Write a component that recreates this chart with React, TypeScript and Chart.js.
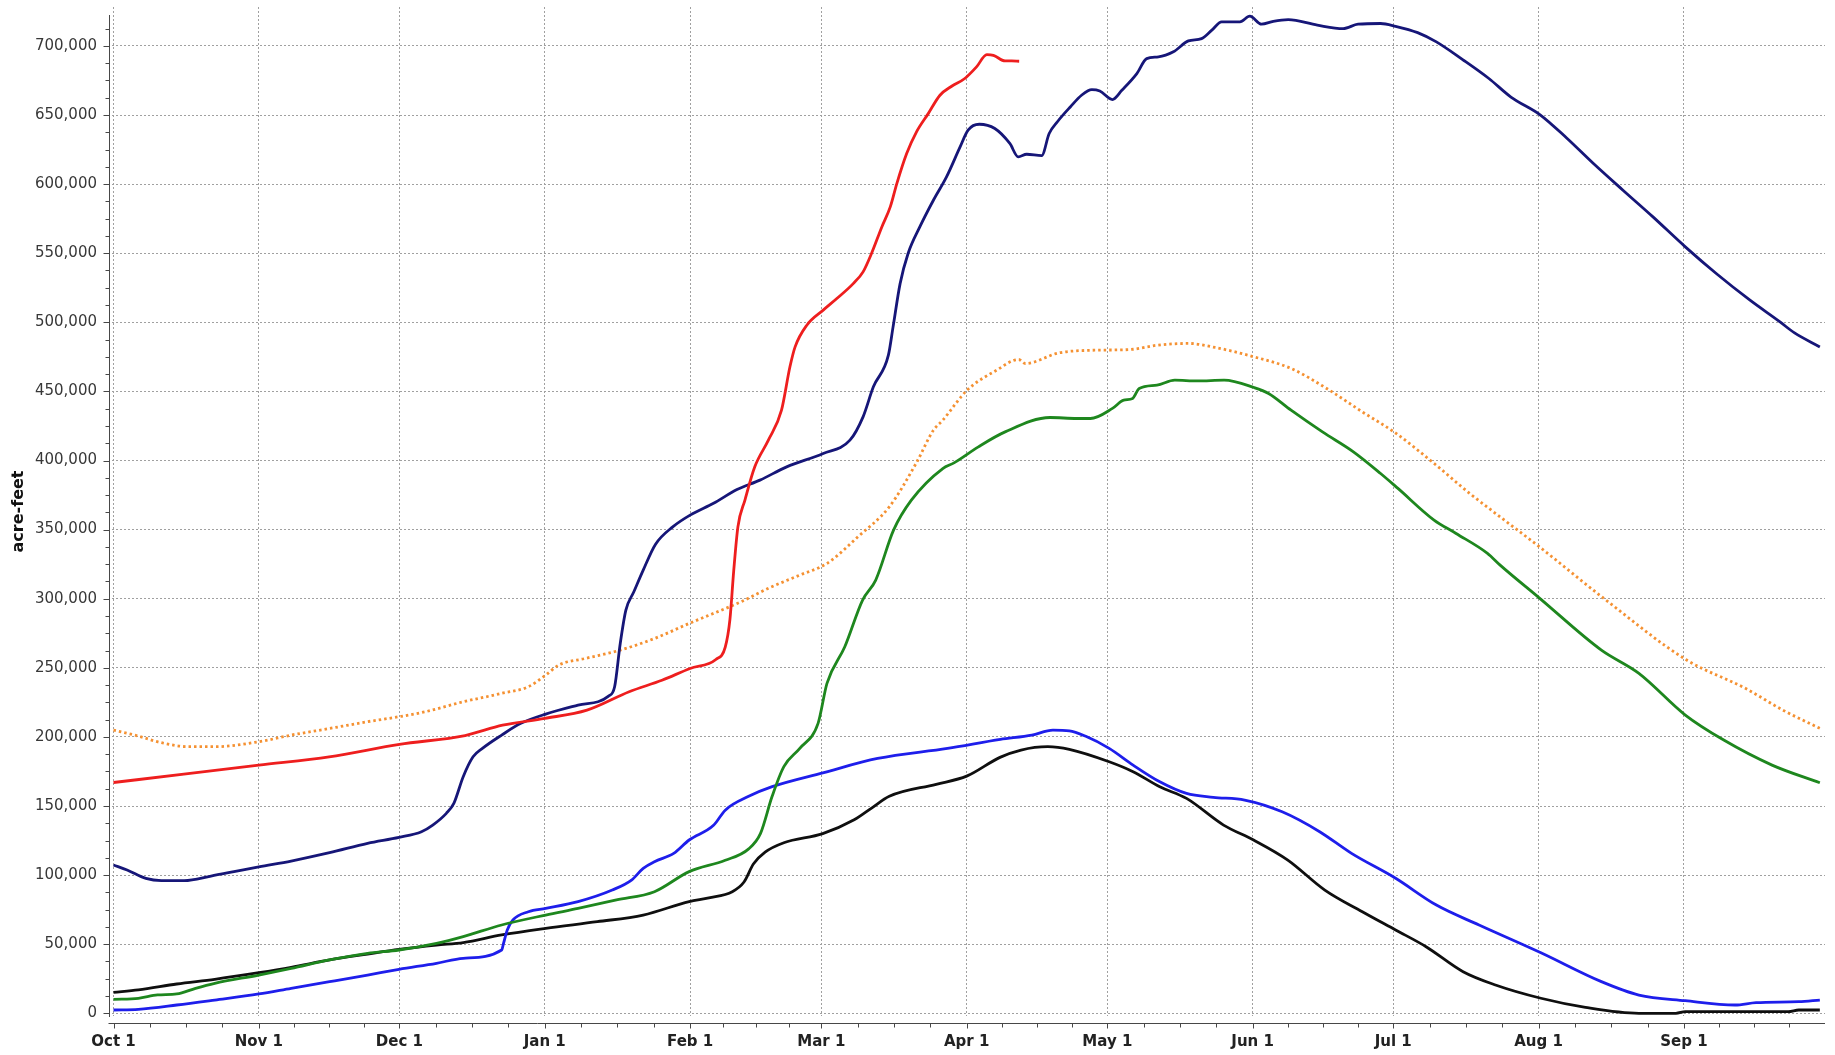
import React, { useEffect, useRef } from "react";
import { Chart, registerables } from "chart.js";

Chart.register(...registerables);

// x = day of water year (Oct 1 = 0)
const MONTH_DAYS = [0, 31, 61, 92, 123, 151, 182, 212, 243, 273, 304, 335];
const MONTH_LABELS = ["Oct 1", "Nov 1", "Dec 1", "Jan 1", "Feb 1", "Mar 1", "Apr 1", "May 1", "Jun 1", "Jul 1", "Aug 1", "Sep 1"];
const Y_TICKS = [0, 50000, 100000, 150000, 200000, 250000, 300000, 350000, 400000, 450000, 500000, 550000, 600000, 650000, 700000];

const RED_DAYS = [0, 15, 31, 46, 61, 75, 83, 92, 101, 110, 117, 123, 128.5, 130.5, 131.5, 132.3, 133.2, 134.7, 136.8, 139.7, 142.5, 144.3, 145.4, 147.9, 151.4, 154.3, 157.8, 159.9, 161.7, 163.9, 165.7, 167.1, 169.2, 171.3, 173.8, 176.3, 178.8, 181.6, 184.1, 186.3, 187.7, 190.2, 191.6, 193.2];
const RED_VALUES = [167000, 173000, 179600, 185600, 194600, 201000, 208500, 213400, 219400, 232700, 241000, 249500, 256000, 265000, 285000, 320000, 352000, 371400, 395400, 414700, 436400, 467800, 482200, 497900, 508800, 517200, 528000, 536500, 549800, 569000, 583500, 600400, 622100, 637800, 651000, 664300, 670800, 676400, 684800, 693700, 693200, 689100, 689100, 688900];

const NAVY_DAYS = [0, 2.9, 6.9, 10.2, 15.1, 20.8, 25.7, 31, 37.9, 46.1, 54.2, 60.9, 65.7, 68.1, 71, 72.6, 74.6, 76.7, 78.7, 82.8, 86.9, 92.2, 99.1, 105.6, 106.9, 108.1, 109.3, 111, 113, 115.6, 119.3, 123, 128, 133, 137.9, 143.6, 151.4, 157.1, 159.9, 162.1, 165.3, 166.3, 167.8, 169.5, 172, 174.9, 177.7, 180.6, 182.3, 184.7, 188, 191.2, 193, 194.8, 198, 199.6, 201.4, 204.1, 206.5, 208.7, 210.4, 213.1, 215.1, 218.3, 220.4, 222.9, 226.1, 229.3, 232.1, 234.3, 236.4, 240.3, 242.4, 244.9, 247.4, 250.6, 256.8, 262.3, 265.5, 270.3, 273.5, 278.2, 282.2, 287.8, 293.4, 298.1, 304.4, 310.1, 315.7, 322, 328.4, 335.3, 341.9, 349.1, 355.5, 358.6, 364];
const NAVY_VALUES = [107300, 103700, 97600, 96000, 96000, 99300, 102500, 106000, 110200, 116200, 123000, 127300, 131400, 136200, 144700, 151900, 171200, 185600, 191700, 201300, 209800, 216500, 223000, 229500, 236300, 267600, 291700, 305000, 320700, 339300, 352000, 360500, 369000, 379000, 385800, 395400, 405100, 414700, 431600, 453300, 476200, 496700, 528000, 549800, 569000, 588300, 605200, 626900, 639000, 643300, 640200, 629400, 619700, 621600, 620600, 636600, 645300, 655800, 664300, 668400, 667400, 661200, 667900, 680000, 690800, 692000, 695700, 703600, 705300, 711400, 717400, 717400, 721500, 715700, 717800, 719000, 715000, 712500, 715700, 716200, 714200, 709600, 702900, 690100, 676400, 663000, 650000, 633000, 614900, 595600, 576300, 554600, 535300, 516000, 500300, 492300, 482200];

const ORANGE_DAYS = [0, 5.3, 10.2, 15.9, 21.6, 31, 37.9, 46.1, 54.2, 60.9, 66.5, 74.6, 82.8, 88.5, 92.2, 95, 100.7, 108.1, 115.4, 122.8, 134, 140, 146.4, 152.2, 158.8, 165.5, 171.2, 174.9, 176.9, 182.1, 188.4, 193.1, 194.5, 201.7, 209.3, 216.9, 222.6, 229.3, 235, 243.3, 251.2, 258.8, 266.4, 273.6, 281.7, 289.3, 295.8, 304, 318, 335.6, 348.2, 356.1, 364];
const ORANGE_VALUES = [204900, 200600, 195800, 192900, 192900, 196500, 201300, 206100, 211000, 214600, 218200, 225400, 231500, 236300, 244700, 252000, 256800, 262800, 271200, 282100, 298000, 308000, 317100, 325500, 344800, 366500, 397900, 421900, 429200, 450900, 465400, 473100, 470200, 477900, 479800, 480300, 483400, 484700, 481800, 475000, 466600, 452100, 435200, 419600, 397900, 376200, 359200, 338000, 300000, 255600, 235000, 219400, 206200];

const GREEN_DAYS = [0, 5.3, 9.4, 13.5, 17.5, 21.6, 31, 37.9, 46.1, 54.2, 60.9, 68.9, 74.6, 82.8, 92.2, 99.1, 107.3, 115.4, 122.8, 130.5, 135.5, 138, 140.5, 143, 146.4, 150.3, 152.2, 156, 159.8, 162.6, 166.4, 170.2, 176.9, 179.3, 184.5, 190.2, 199.8, 205.5, 208.4, 213.1, 215.5, 217.4, 218.8, 222.6, 226.4, 231.2, 236.9, 243.3, 246.4, 251.2, 257.9, 264.5, 270.3, 274, 281.7, 286.4, 293.1, 295.8, 304, 317.4, 325.4, 335.3, 343.5, 353.8, 364];
const GREEN_VALUES = [10100, 10800, 13300, 14000, 18100, 21700, 27700, 32500, 38600, 43400, 45800, 50600, 55500, 63900, 71100, 75900, 82000, 88000, 102500, 110700, 119000, 130000, 157000, 178500, 191700, 209800, 238700, 265200, 299000, 313500, 349600, 371300, 394200, 398300, 409900, 420700, 431100, 430400, 430400, 437700, 443700, 444900, 452100, 454500, 458100, 457600, 458100, 452800, 448500, 436400, 420700, 406300, 390600, 379800, 356900, 347200, 332800, 324300, 301000, 262800, 246000, 215800, 197700, 179600, 166800];

const BLUE_DAYS = [0, 5.3, 13.5, 21.6, 31, 37.9, 46.1, 54.2, 60.9, 68.9, 74.6, 82.8, 83.2, 84, 85.2, 88.5, 92.2, 99.1, 106.4, 110.5, 113, 115.4, 119.5, 122.8, 128, 130.5, 135.5, 140.5, 151.3, 163, 177.9, 189.2, 195.9, 200.4, 203.9, 207.3, 212.4, 217.5, 223.2, 228.9, 234.6, 241.3, 249.3, 257.3, 264.1, 273.5, 282.2, 291.3, 304.5, 317.4, 325.4, 335.3, 345.9, 350.4, 359.5, 364];
const BLUE_VALUES = [2400, 2900, 6000, 9600, 14000, 18100, 22900, 27700, 31800, 36200, 39800, 45800, 50600, 60300, 67500, 73500, 75900, 80800, 89200, 96400, 104900, 109700, 115700, 125400, 136000, 147000, 157000, 164000, 174000, 184400, 191700, 198200, 201300, 204900, 204400, 200600, 191700, 179600, 167500, 159100, 156300, 154300, 145800, 131400, 115700, 97700, 78300, 63900, 43800, 22900, 13200, 9100, 6000, 7700, 8400, 9600];

const BLACK_DAYS = [0, 5.3, 13.5, 21.6, 31, 37.9, 46.1, 54.2, 60.9, 68.9, 74.6, 82.8, 92.2, 103.2, 113, 122.8, 127, 132, 134.5, 136.5, 139, 143, 151.3, 158, 161.8, 165.5, 175.5, 182, 189.1, 193.6, 199.3, 203.9, 212.4, 217.5, 223.2, 228.9, 236.8, 243.2, 250.5, 258.4, 266.4, 273.5, 280, 287.9, 294.8, 304.5, 314, 325.4, 333.3, 335.3, 357.3, 359.5, 364];
const BLACK_VALUES = [15200, 16900, 21200, 24600, 29400, 33300, 38600, 42900, 46300, 49400, 51100, 56700, 61500, 66300, 71100, 80800, 83500, 88000, 95000, 108000, 116600, 123400, 130000, 140000, 148700, 157000, 165700, 171600, 185200, 190500, 192900, 191000, 182000, 174800, 163900, 155500, 136200, 125400, 110900, 89200, 73500, 60300, 48200, 30100, 20500, 10900, 4300, 0, 0, 1200, 1200, 2400, 2400];

const toPoints = (days: number[], vals: number[]) => days.map((d, i) => ({ x: d, y: vals[i] }));

const FONT = "'DejaVu Sans', Verdana, sans-serif";

const offsetAxesPlugin = {
  id: "offsetAxes",
  afterDraw(chart: any) {
    const { ctx, chartArea, scales } = chart;
    const xs = scales.x;
    const ys = scales.y;
    ctx.save();
    ctx.strokeStyle = "#474747";
    ctx.lineWidth = 1;
    const ax = Math.round(chartArea.left) - 2.5;
    ctx.beginPath();
    ctx.moveTo(ax, 15);
    ctx.lineTo(ax, chartArea.bottom + 1);
    ctx.stroke();
    for (let v = 0; v <= 715000; v += 12500) {
      const y = Math.round(ys.getPixelForValue(v)) + 0.5;
      const len = v % 50000 === 0 ? 6 : 4;
      ctx.beginPath();
      ctx.moveTo(ax - len, y);
      ctx.lineTo(ax, y);
      ctx.stroke();
    }
    const ay = Math.round(chartArea.bottom) + 7.5;
    ctx.beginPath();
    ctx.moveTo(ax - 1, ay);
    ctx.lineTo(chartArea.right, ay);
    ctx.stroke();
    for (let i = 0; i < MONTH_DAYS.length; i++) {
      const a = MONTH_DAYS[i];
      const b = i + 1 < MONTH_DAYS.length ? MONTH_DAYS[i + 1] : 365;
      for (let k = 0; k < 4; k++) {
        const d = a + ((b - a) * k) / 4;
        const x = Math.round(xs.getPixelForValue(d)) + 0.5;
        if (x > chartArea.right) continue;
        const len = k === 0 ? 5 : 4;
        ctx.beginPath();
        ctx.moveTo(x, ay);
        ctx.lineTo(x, ay + len);
        ctx.stroke();
      }
    }
    ctx.restore();
  },
};

const lineDs = (label: string, days: number[], vals: number[], color: string, extra: any = {}) => ({
  label,
  data: toPoints(days, vals),
  borderColor: color,
  backgroundColor: color,
  borderWidth: 2.8,
  pointRadius: 0,
  fill: false,
  cubicInterpolationMode: "monotone",
  ...extra,
});

export default function App() {
  const ref = useRef<HTMLCanvasElement | null>(null);
  useEffect(() => {
    if (!ref.current) return;
    const chart = new Chart(ref.current, {
      type: "line",
      data: {
        datasets: [
          lineDs("Current", RED_DAYS, RED_VALUES, "rgb(238,30,30)"),
          lineDs("Max", NAVY_DAYS, NAVY_VALUES, "rgb(22,22,120)"),
          lineDs("Average", ORANGE_DAYS, ORANGE_VALUES, "rgb(245,145,50)", { borderDash: [2.5, 3] }),
          lineDs("Median", GREEN_DAYS, GREEN_VALUES, "rgb(30,135,30)"),
          lineDs("Year A", BLUE_DAYS, BLUE_VALUES, "rgb(30,30,235)"),
          lineDs("Min", BLACK_DAYS, BLACK_VALUES, "rgb(15,15,15)"),
        ],
      } as any,
      options: {
        animation: false,
        responsive: false,
        devicePixelRatio: 1,
        layout: { padding: { top: 7, right: 10, left: 0, bottom: 0 } },
        plugins: { legend: { display: false }, tooltip: { enabled: false } },
        scales: {
          x: {
            type: "linear",
            min: -0.32,
            max: 365.1,
            afterBuildTicks: (s: any) => {
              s.ticks = MONTH_DAYS.map((v) => ({ value: v }));
            },
            afterFit: (s: any) => {
              s.height = 39;
              s.paddingLeft = 0;
              s.paddingRight = 0;
            },
            ticks: {
              autoSkip: false,
              maxRotation: 0,
              padding: 17,
              color: "#222",
              font: { family: FONT, size: 15, weight: "bold" },
              callback: (v: any) => MONTH_LABELS[MONTH_DAYS.indexOf(Number(v))] ?? "",
            },
            grid: { color: "#a0a0a0", lineWidth: 1, drawTicks: false },
            border: { display: false, dash: [2, 2] },
          },
          y: {
            type: "linear",
            min: -1950,
            max: 728150,
            afterBuildTicks: (s: any) => {
              s.ticks = Y_TICKS.map((v) => ({ value: v }));
            },
            afterFit: (s: any) => {
              s.width = 112;
              s.paddingTop = 0;
              s.paddingBottom = 0;
            },
            ticks: {
              padding: 15,
              color: "#383838",
              font: { family: FONT, size: 15 },
              callback: (v: any) => Number(v).toLocaleString("en-US"),
            },
            grid: { color: "#a0a0a0", lineWidth: 1, drawTicks: false },
            border: { display: false, dash: [2, 2] },
            title: {
              display: true,
              text: "acre-feet",
              color: "#111",
              font: { family: FONT, size: 16, weight: "bold" },
              padding: { top: 9, bottom: 0 },
            },
          },
        },
      } as any,
      plugins: [offsetAxesPlugin],
    });
    return () => chart.destroy();
  }, []);
  return (
    <div style={{ position: "fixed", left: 0, top: 0, width: 1835, height: 1055, background: "#fff" }}>
      <canvas ref={ref} width={1835} height={1055} style={{ display: "block" }} />
    </div>
  );
}
